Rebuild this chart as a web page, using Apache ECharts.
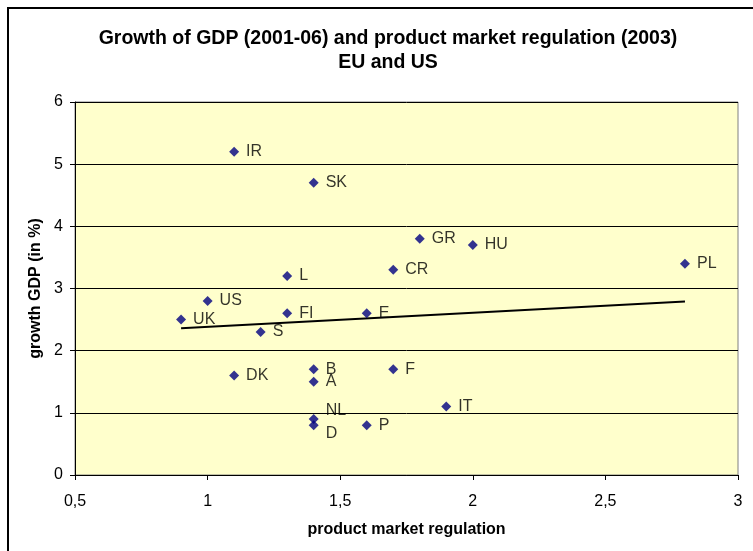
<!DOCTYPE html>
<html>
<head>
<meta charset="utf-8">
<script src="https://cdn.jsdelivr.net/npm/echarts@6/dist/echarts.min.js"></script>
<style>
  html, body { margin: 0; padding: 0; background: #ffffff; }
  #chart { width: 753px; height: 551px; }
</style>
</head>
<body>
<div id="chart"></div>
<script>
// Country codes, product market regulation index (2003) and GDP growth 2001-06 (%)
const countries  = ['IR', 'SK', 'GR', 'HU', 'PL', 'CR', 'L', 'US', 'UK', 'FI', 'E', 'S', 'DK', 'B', 'A', 'F', 'IT', 'NL', 'D', 'P'];
const regulation = [1.1, 1.4, 1.8, 2.0, 2.8, 1.7, 1.3, 1.0, 0.9, 1.3, 1.6, 1.2, 1.1, 1.4, 1.4, 1.7, 1.9, 1.4, 1.4, 1.6];
const growth     = [5.2, 4.7, 3.8, 3.7, 3.4, 3.3, 3.2, 2.8, 2.5, 2.6, 2.6, 2.3, 1.6, 1.7, 1.5, 1.7, 1.1, 0.9, 0.8, 0.8];

// Linear trend line end points
const trendX = [0.9, 2.8];
const trendY = [2.36, 2.79];

// Axis ticks
const xTicks = [0.5, 1, 1.5, 2, 2.5, 3];
const yTicks = [0, 1, 2, 3, 4, 5, 6];

const FONT = '"Liberation Sans", Arial, sans-serif';

// Labels nudged up / down so close neighbours stay readable
const labelShift = { NL: -8, D: 8 };

const chart = echarts.init(document.getElementById('chart'), null, { renderer: 'canvas' });

chart.setOption({
  animation: false,
  backgroundColor: '#ffffff',
  graphic: [
    {
      type: 'rect',
      shape: { x: 8, y: 8, width: 800, height: 600 },
      style: { fill: 'none', stroke: '#000000', lineWidth: 2 },
      silent: true
    },
    {
      type: 'text',
      style: {
        text: 'Growth of GDP (2001-06) and product market regulation (2003)\nEU and US',
        x: 388, y: 51,
        textAlign: 'center', textVerticalAlign: 'middle',
        font: 'bold 19.5px ' + FONT,
        lineHeight: 24,
        fill: '#000000'
      },
      silent: true
    }
  ],
  grid: {
    left: 75, right: 15, top: 102, bottom: 76,
    show: true,
    backgroundColor: '#FFFFCC',
    borderColor: '#808080',
    borderWidth: 1
  },
  xAxis: {
    type: 'value',
    min: xTicks[0], max: xTicks[xTicks.length - 1], interval: 0.5,
    name: 'product market regulation',
    nameLocation: 'middle',
    nameGap: 47,
    nameTextStyle: { fontFamily: FONT, fontWeight: 'bold', fontSize: 16, color: '#000' },
    axisLine: { show: true, onZero: false, lineStyle: { color: '#000', width: 1 } },
    axisTick: { show: true, inside: false, length: 5, lineStyle: { color: '#000' } },
    axisLabel: {
      margin: 19, fontFamily: FONT, fontSize: 16, color: '#000',
      formatter: v => String(v).replace('.', ',')
    },
    splitLine: { show: false }
  },
  yAxis: {
    type: 'value',
    min: yTicks[0], max: yTicks[yTicks.length - 1], interval: 1,
    name: 'growth GDP (in %)',
    nameLocation: 'middle',
    nameGap: 29,
    nameRotate: 90,
    nameTextStyle: { fontFamily: FONT, fontWeight: 'bold', fontSize: 16, color: '#000' },
    axisLine: { show: true, onZero: false, lineStyle: { color: '#000', width: 1 } },
    axisTick: { show: true, inside: false, length: 5, lineStyle: { color: '#000' } },
    axisLabel: { margin: 12, fontFamily: FONT, fontSize: 16, color: '#000' },
    splitLine: { show: true, lineStyle: { color: '#000', width: 1 } }
  },
  series: [
    {
      type: 'line',
      data: trendX.map((x, i) => [x, trendY[i]]),
      symbol: 'none',
      lineStyle: { color: '#000', width: 2 },
      silent: true,
      z: 2
    },
    {
      type: 'scatter',
      data: countries.map((c, i) => ({ name: c, value: [regulation[i], growth[i]] })),
      symbol: 'diamond',
      symbolSize: 10,
      itemStyle: { color: '#000080' },
      label: {
        show: true,
        position: 'right',
        distance: 7,
        formatter: p => p.name,
        fontFamily: FONT,
        fontSize: 16,
        color: '#000'
      },
      labelLayout: p => ({ dy: labelShift[countries[p.dataIndex]] || 0, hideOverlap: false }),
      z: 3
    }
  ]
});
</script>
</body>
</html>
